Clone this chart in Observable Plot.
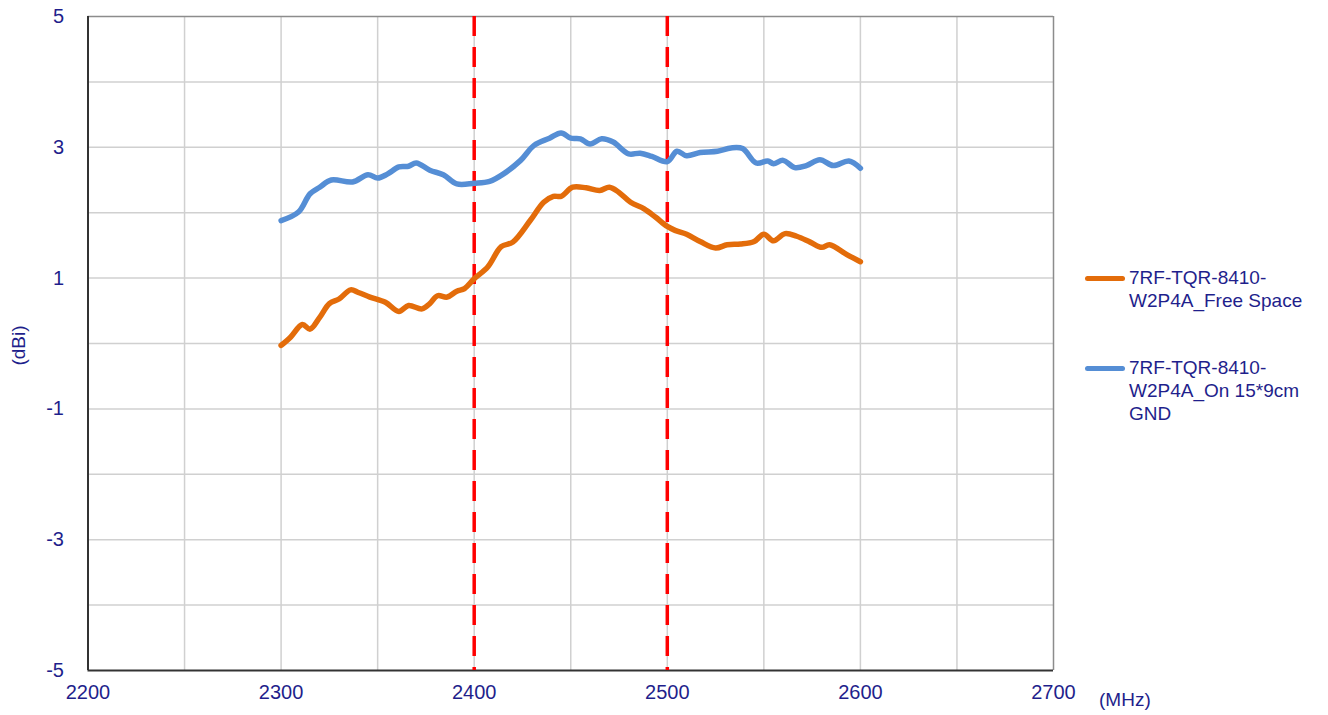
<!DOCTYPE html>
<html>
<head>
<meta charset="utf-8">
<script src="https://cdn.jsdelivr.net/npm/d3@7"></script>
<script src="https://cdn.jsdelivr.net/npm/@observablehq/plot@0.6"></script>
<style>
  html, body { margin: 0; padding: 0; background: #fff; }
  #wrap { position: relative; width: 1328px; height: 715px; font-family: "Liberation Sans", Arial, sans-serif; color: #1f1f8c; }
  .lbl { position: absolute; font-size: 19px; line-height: 23px; white-space: nowrap; }
  .swatch { position: absolute; width: 40px; height: 5px; border-radius: 3px; }
</style>
</head>
<body>
<div id="wrap"></div>
<script>
// Free Space series
const freeFreq = [2300,2305,2311,2315,2320,2325,2330,2336,2340,2346,2354,2361,2366,2373,2377,2381,2386,2391,2395,2400,2407,2414,2420,2429,2436,2441,2445,2451,2458,2465,2470,2475,2481,2488,2494,2500,2504,2510,2517,2525,2531,2538,2545,2550,2555,2561,2567,2574,2580,2584,2593,2600];
const freeGain = [-0.03,0.10,0.29,0.22,0.40,0.61,0.68,0.82,0.78,0.71,0.63,0.49,0.58,0.53,0.61,0.73,0.71,0.80,0.84,0.99,1.17,1.48,1.55,1.88,2.16,2.25,2.25,2.39,2.38,2.34,2.39,2.31,2.16,2.06,1.93,1.79,1.73,1.67,1.56,1.46,1.51,1.52,1.56,1.67,1.57,1.68,1.64,1.55,1.47,1.51,1.36,1.25];
// On 15*9cm GND series
const gndFreq = [2300,2309,2315,2320,2326,2337,2345,2350,2355,2361,2366,2370,2377,2384,2391,2400,2408,2415,2424,2431,2439,2445,2450,2455,2460,2466,2472,2480,2486,2492,2500,2505,2510,2517,2526,2533,2539,2546,2552,2555,2560,2566,2572,2579,2586,2594,2600];
const gndGain = [1.88,2.01,2.29,2.39,2.50,2.47,2.58,2.53,2.59,2.70,2.71,2.76,2.65,2.58,2.44,2.45,2.48,2.59,2.80,3.03,3.14,3.22,3.14,3.13,3.05,3.13,3.08,2.90,2.91,2.86,2.78,2.94,2.87,2.92,2.94,2.99,2.98,2.76,2.79,2.75,2.80,2.69,2.72,2.81,2.72,2.79,2.68];

const seriesNames = ["7RF-TQR-8410-\nW2P4A_Free Space", "7RF-TQR-8410-\nW2P4A_On 15*9cm\nGND"];
const xTicks = [2200,2300,2400,2500,2600,2700];
const yTicks = [-5,-3,-1,1,3,5];
const xGrid = [2250,2300,2350,2400,2450,2500,2550,2600,2650];
const yGrid = [-4,-3,-2,-1,0,1,2,3,4];
const markerFreqs = [2400,2500];

const free = freeFreq.map((f,i) => ({f, g: freeGain[i]}));
const gnd = gndFreq.map((f,i) => ({f, g: gndGain[i]}));

const axisColor = "#1f1f8c";
const chart = Plot.plot({
  width: 1328,
  height: 715,
  marginLeft: 87.5,
  marginRight: 275,
  marginTop: 16,
  marginBottom: 45,
  x: {domain: [2200, 2700]},
  y: {domain: [-5, 5]},
  style: {fontFamily: "'Liberation Sans', Arial, sans-serif", background: "#fff"},
  marks: [
    Plot.ruleX(xGrid, {stroke: "#d0d0d0", strokeWidth: 1.5}),
    Plot.ruleY(yGrid, {stroke: "#d0d0d0", strokeWidth: 1.5}),
    Plot.ruleY([5], {stroke: "#8c8c8c", strokeWidth: 1.5}),
    Plot.ruleX([2700], {stroke: "#8c8c8c", strokeWidth: 1.5}),
    Plot.ruleX([2200], {stroke: "#333", strokeWidth: 2}),
    Plot.ruleY([-5], {stroke: "#333", strokeWidth: 2}),
    Plot.ruleX(markerFreqs, {stroke: "#ff0000", strokeWidth: 3.5, strokeDasharray: "20,11"}),
    Plot.line(gnd, {x: "f", y: "g", stroke: "#558ed5", strokeWidth: 5.5, curve: "catmull-rom"}),
    Plot.line(free, {x: "f", y: "g", stroke: "#e36c0a", strokeWidth: 5.5, curve: "catmull-rom"}),
    Plot.axisY({ticks: yTicks, tickSize: 0, tickPadding: 24, fontSize: 20, color: axisColor, label: null, tickFormat: d => String(d)}),
    Plot.axisX({ticks: xTicks, tickSize: 0, tickPadding: 14, fontSize: 20, color: axisColor, label: null, tickFormat: d => String(d)})
  ]
});
const wrap = document.getElementById("wrap");
wrap.appendChild(chart);

function addLabel(text, left, top, extra) {
  const d = document.createElement("div");
  d.className = "lbl";
  d.style.left = left + "px";
  d.style.top = top + "px";
  d.innerText = text;
  if (extra) Object.assign(d.style, extra);
  wrap.appendChild(d);
  return d;
}
function addSwatch(color, left, top) {
  const s = document.createElement("div");
  s.className = "swatch";
  s.style.left = left + "px";
  s.style.top = top + "px";
  s.style.background = color;
  wrap.appendChild(s);
}
addSwatch("#e36c0a", 1085, 276);
addLabel(seriesNames[0], 1129, 266);
addSwatch("#558ed5", 1085, 366);
addLabel(seriesNames[1], 1129, 356);
addLabel("(MHz)", 1099, 688);
addLabel("(dBi)", 0, 334, {transform: "rotate(-90deg)", left: "-4px", width: "44px", textAlign: "center"});
</script>
</body>
</html>
